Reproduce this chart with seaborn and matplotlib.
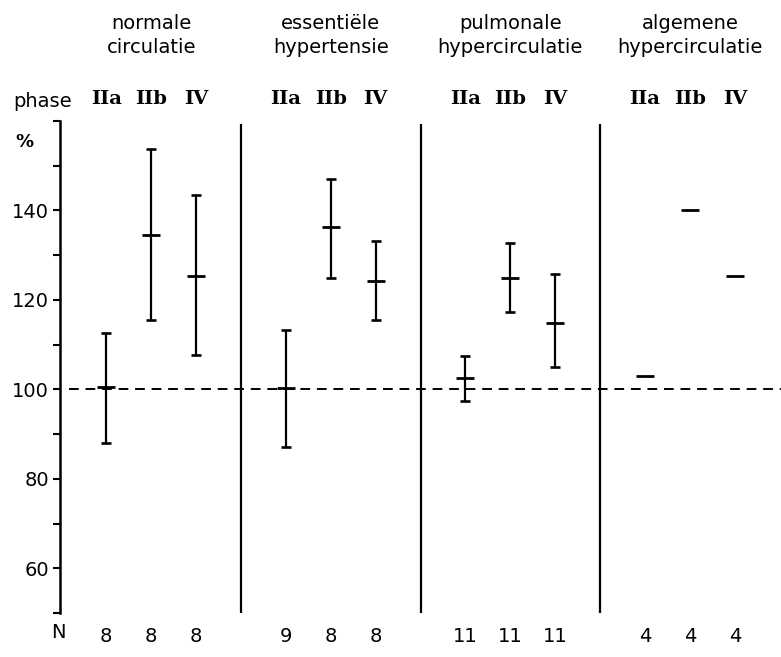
import numpy as np
import pandas as pd
import matplotlib.pyplot as plt
import matplotlib.transforms as mtransforms
import seaborn as sns

# Gegevens
groups = ["normale\ncirculatie", "essentiële\nhypertensie",
          "pulmonale\nhypercirculatie", "algemene\nhypercirculatie"]
phases = ["IIa", "IIb", "IV"]
n_counts = [8, 8, 8, 9, 8, 8, 11, 11, 11, 4, 4, 4]
mean_pct = [100.6, 134.6, 125.3, 100.3, 136.2, 124.2,
            102.5, 124.9, 114.9, 102.9, 140.2, 125.3]
low_pct = [88.1, 115.6, 107.6, 87.2, 124.9, 115.5,
           97.4, 117.4, 105.1, np.nan, np.nan, np.nan]
high_pct = [112.7, 153.7, 143.4, 113.3, 147.1, 133.1,
            107.4, 132.8, 125.9, np.nan, np.nan, np.nan]
y_ticks = list(range(50, 161, 10))
y_labels = ["" if (t % 20 or t < 60 or t > 140) else str(t) for t in y_ticks]

# Tabel opbouwen
rows = []
for gi, g in enumerate(groups):
    for pi, p in enumerate(phases):
        rows.append({"group": g, "phase": p, "pos": gi * 4 + pi})
df = pd.DataFrame(rows)
df["mean"] = mean_pct
df["low"] = low_pct
df["high"] = high_pct
df["n"] = n_counts

sns.set_style("white")
plt.rcParams["font.family"] = ["DejaVu Sans"]
plt.rcParams["text.color"] = "black"
plt.rcParams["xtick.color"] = "black"
plt.rcParams["ytick.color"] = "black"

fig = plt.figure(figsize=(7.81, 6.57), dpi=100)
ax = fig.add_axes([60 / 781, 44 / 657, 721 / 781, 492 / 657])

# Spreiding
bars = df.dropna(subset=["low"])
ax.errorbar(bars["pos"], bars["mean"],
            yerr=[bars["mean"] - bars["low"], bars["high"] - bars["mean"]],
            fmt="none", ecolor="black", elinewidth=1.6, capsize=3.8, capthick=1.9)

# Gemiddelden
sns.scatterplot(data=df, x="pos", y="mean", marker="_", s=170,
                color="black", linewidth=2.0, ax=ax, legend=False, zorder=3)

# Referentielijn en scheidingslijnen
ax.axhline(100, xmin=0.012, xmax=1, color="black", lw=1.4, ls=(0, (5, 3.5)))
ax.vlines([3, 7, 11], 50, 159.3, color="black", lw=1.6)

ax.set_xlim(-1.03, 15.03)
ax.set_ylim(50, 160)
ax.set_xlabel("")
ax.set_ylabel("")
for s in ["top", "right", "bottom"]:
    ax.spines[s].set_visible(False)
ax.spines["left"].set_linewidth(1.8)
ax.spines["left"].set_color("black")

ax.set_yticks(y_ticks, labels=y_labels)
ax.tick_params(axis="y", direction="out", length=5, width=1.5,
               labelsize=14, pad=3, left=True)

ax.set_xticks(df["pos"], labels=[str(n) for n in df["n"]])
ax.tick_params(axis="x", length=0, labelsize=14, pad=10)

sec = ax.secondary_xaxis("top")
sec.set_xticks(df["pos"], labels=list(df["phase"]))
sec.tick_params(length=0, pad=9, labelsize=14)
for lab in sec.get_xticklabels():
    lab.set_family("DejaVu Serif")
    lab.set_weight("bold")
sec.spines["top"].set_visible(False)

# Groepstitels
trans = mtransforms.blended_transform_factory(ax.transData, fig.transFigure)
for gi, g in enumerate(groups):
    ax.text(gi * 4 + 1, 0.946, g, transform=trans, ha="center", va="center",
            fontsize=14, linespacing=1.3)

fig.text(13 / 781, 0.846, "phase", ha="left", va="center", fontsize=14)
fig.text(24 / 781, 0.784, "%", ha="center", va="center", fontsize=13,
         weight="bold")
fig.text(58 / 781, 0.037, "N", ha="center", va="center", fontsize=14)

fig.savefig("out.png", dpi=100)
